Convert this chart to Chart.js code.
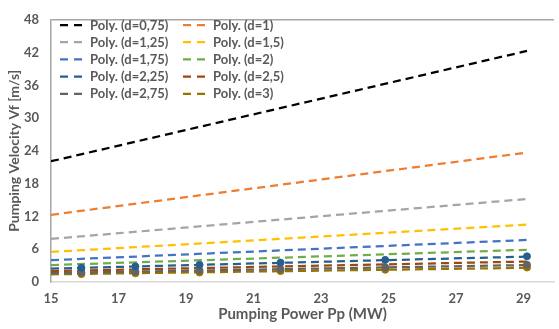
<!DOCTYPE html>
<html>
<head>
<meta charset="utf-8">
<script src="https://cdn.jsdelivr.net/npm/chart.js@4/dist/chart.umd.min.js"></script>
<style>
  html, body { margin: 0; padding: 0; background: #ffffff; }
  #wrap { width: 559px; height: 329px; position: relative; }
</style>
</head>
<body>
<div id="wrap"><canvas id="myChart" width="559" height="329"></canvas></div>
<script>
// pumping velocity vs pumping power, one trendline per pipe diameter d
const diameters = ["0,75", "1", "1,25", "1,5", "1,75", "2", "2,25", "2,5", "2,75", "3"];
const lineColors = ["#000000", "#ED7D31", "#A5A5A5", "#FFC000", "#4472C4",
                    "#70AD47", "#255E91", "#9E480E", "#636363", "#997300"];

// trendline ends (Pp in MW)
const trendPp = [15, 29.1];
const vfTrend = [
  [22.1, 42.3],   // d=0,75
  [12.3, 23.7],   // d=1
  [7.9, 15.2],    // d=1,25
  [5.5, 10.5],    // d=1,5
  [4.0, 7.7],     // d=1,75
  [3.1, 5.9],     // d=2
  [2.45, 4.65],   // d=2,25
  [2.0, 3.75],    // d=2,5
  [1.65, 3.1],    // d=2,75
  [1.4, 2.6]      // d=3
];

// measured points
const pointPp = [15.9, 17.5, 19.4, 21.8, 24.9, 29.1];
const vfPoints_225 = [2.6, 2.85, 3.15, 3.55, 4.05, 4.7];
const vfPoints_275 = [1.75, 1.9, 2.1, 2.35, 2.7, 3.15];
const vfPoints_3 = [1.45, 1.6, 1.75, 2.0, 2.25, 2.65];

const yTicks = [0, 6, 12, 18, 24, 30, 36, 42, 48];
const xTicks = [15, 17, 19, 21, 23, 25, 27, 29];

const textGray = "#595959";
const fontFamily = "Lato, 'Liberation Sans', sans-serif";

const toXY = (xs, ys) => xs.map((x, i) => ({ x: x, y: ys[i] }));

const datasets = [];
const markerSets = [
  { values: vfPoints_225, color: lineColors[6] },
  { values: vfPoints_275, color: lineColors[8] },
  { values: vfPoints_3, color: lineColors[9] }
];
markerSets.forEach((m) => {
  datasets.push({
    data: toXY(pointPp, m.values),
    showLine: false,
    pointRadius: 3.5,
    pointBackgroundColor: m.color,
    pointBorderColor: m.color,
    legendItem: false
  });
});
diameters.forEach((d, i) => {
  datasets.push({
    label: "Poly. (d=" + d + ")",
    data: toXY(trendPp, vfTrend[i]),
    showLine: true,
    borderColor: lineColors[i],
    borderWidth: 2.25,
    borderDash: [8, 5],
    pointRadius: 0,
    legendItem: true
  });
});

// two-column legend drawn inside the plot area
const insideLegend = {
  id: "insideLegend",
  afterDatasetsDraw(chart) {
    const ctx = chart.ctx;
    const items = chart.data.datasets.filter((ds) => ds.legendItem);
    ctx.save();
    ctx.font = "bold 13px " + fontFamily;
    ctx.textBaseline = "middle";
    items.forEach((ds, i) => {
      const col = i % 2;
      const row = Math.floor(i / 2);
      const x0 = col === 0 ? 60 : 183;
      const y = 25 + row * 17.2;
      ctx.strokeStyle = ds.borderColor;
      ctx.lineWidth = 2.25;
      ctx.setLineDash([8, 6]);
      ctx.beginPath();
      ctx.moveTo(x0, y);
      ctx.lineTo(x0 + 22, y);
      ctx.stroke();
      ctx.setLineDash([]);
      ctx.fillStyle = textGray;
      ctx.fillText(ds.label, x0 + 30, y + 0.5, 80);
    });
    ctx.restore();
  }
};

const ctx = document.getElementById("myChart").getContext("2d");
const myChart = new Chart(ctx, {
  type: "scatter",
  data: { datasets: datasets },
  options: {
    responsive: false,
    animation: false,
    layout: { padding: { top: 11, right: 1, left: 0, bottom: 0 } },
    plugins: {
      legend: { display: false },
      tooltip: { enabled: false }
    },
    scales: {
      x: {
        type: "linear",
        min: 15,
        max: 29.9,
        afterFit: (scale) => { scale.height = 47; },
        afterBuildTicks: (scale) => { scale.ticks = xTicks.map((v) => ({ value: v })); },
        grid: { display: false, drawTicks: false },
        border: { display: true, color: "#d9d9d9", width: 1.5 },
        ticks: {
          padding: 9,
          color: textGray,
          font: { family: fontFamily, size: 13, weight: "bold" }
        },
        title: {
          display: true,
          text: "Pumping Power Pp (MW)",
          color: textGray,
          font: { family: fontFamily, size: 15, weight: "bold" },
          padding: { top: 0, bottom: 6 }
        }
      },
      y: {
        min: 0,
        max: 48,
        afterFit: (scale) => { scale.width = 51; },
        afterBuildTicks: (scale) => { scale.ticks = yTicks.map((v) => ({ value: v })); },
        grid: {
          drawTicks: false,
          color: (c) => (c.tick && c.tick.value === 48 ? "#a6a6a6" : "rgba(0,0,0,0)"),
          lineWidth: 1.5
        },
        border: { display: true, color: "#a6a6a6", width: 1.5 },
        ticks: {
          padding: 12,
          color: textGray,
          font: { family: fontFamily, size: 13, weight: "bold" }
        },
        title: {
          display: true,
          text: "Pumping Velocity Vf [m/s]",
          color: textGray,
          font: { family: fontFamily, size: 14, weight: "bold" },
          padding: { top: 6, bottom: 0 }
        }
      }
    }
  },
  plugins: [insideLegend]
});
</script>
</body>
</html>
